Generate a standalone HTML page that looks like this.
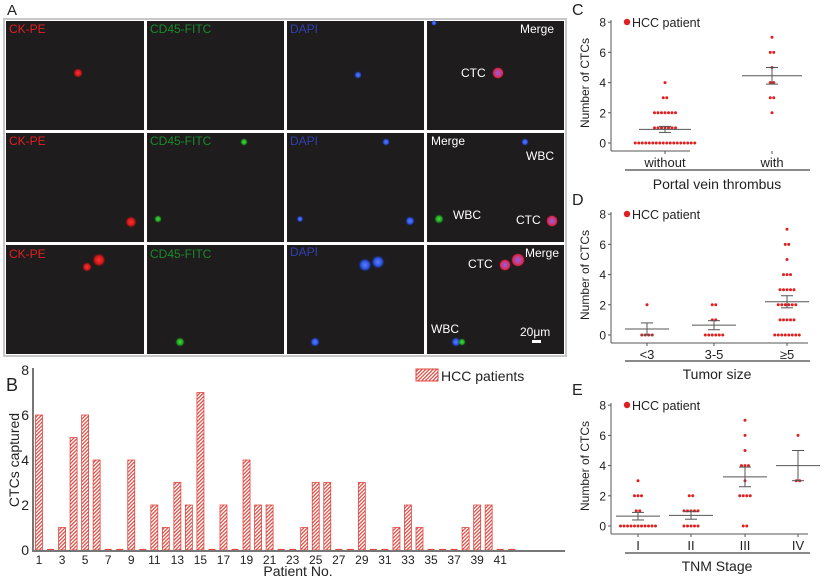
<!DOCTYPE html>
<html><head><meta charset="utf-8"><style>
html,body{margin:0;padding:0;background:#fff;}
svg{display:block;font-family:"Liberation Sans","DejaVu Sans",sans-serif;}
</style></head><body>
<svg id="s" width="825" height="577" viewBox="0 0 825 577" xmlns="http://www.w3.org/2000/svg">
<defs>
<pattern id="h" width="2.6" height="2.6" patternUnits="userSpaceOnUse" patternTransform="rotate(45)">
<rect width="2.6" height="2.6" fill="#fff"/><rect width="1.2" height="2.6" fill="#e0473f"/>
</pattern>
<radialGradient id="gr"><stop offset="0" stop-color="#ff3030"/><stop offset="0.6" stop-color="#d01818"/><stop offset="1" stop-color="#5a1010" stop-opacity="0"/></radialGradient>
<radialGradient id="gg"><stop offset="0" stop-color="#40e040"/><stop offset="0.6" stop-color="#20a020"/><stop offset="1" stop-color="#104010" stop-opacity="0"/></radialGradient>
<radialGradient id="gb"><stop offset="0" stop-color="#5a80ff"/><stop offset="0.6" stop-color="#2a50e0"/><stop offset="1" stop-color="#102060" stop-opacity="0"/></radialGradient>
<radialGradient id="gm"><stop offset="0" stop-color="#9060e0"/><stop offset="0.5" stop-color="#c04090"/><stop offset="0.8" stop-color="#e02040"/><stop offset="1" stop-color="#501010" stop-opacity="0"/></radialGradient>
</defs>
<text x="7" y="15" font-size="15" fill="#222">A</text>
<rect x="3" y="18" width="564" height="339" fill="#c8c8c8"/>
<rect x="5" y="20" width="560" height="335" fill="#fff"/>
<g fill="#1e1c1d">
<rect x="6" y="21" width="138" height="109"/><rect x="147" y="21" width="137" height="109"/><rect x="287" y="21" width="137" height="109"/><rect x="427" y="21" width="137" height="109"/>
<rect x="6" y="133" width="138" height="109"/><rect x="147" y="133" width="137" height="109"/><rect x="287" y="133" width="137" height="109"/><rect x="427" y="133" width="137" height="109"/>
<rect x="6" y="245" width="138" height="109"/><rect x="147" y="245" width="137" height="109"/><rect x="287" y="245" width="137" height="109"/><rect x="427" y="245" width="137" height="109"/>
</g>
<g font-size="12">
<text x="9" y="33" fill="#e02020">CK-PE</text><text x="150" y="33" fill="#1a8a2a">CD45-FITC</text><text x="290" y="33" fill="#3040b0">DAPI</text><text x="520" y="33" fill="#fff">Merge</text>
<text x="9" y="145" fill="#e02020">CK-PE</text><text x="150" y="145" fill="#1a8a2a">CD45-FITC</text><text x="290" y="145" fill="#3040b0">DAPI</text><text x="431" y="145" fill="#fff">Merge</text>
<text x="9" y="258" fill="#e02020">CK-PE</text><text x="150" y="258" fill="#1a8a2a">CD45-FITC</text><text x="290" y="256" fill="#3040b0">DAPI</text><text x="525" y="257" fill="#fff">Merge</text>
<text x="461" y="77" fill="#fff">CTC</text><text x="526" y="160" fill="#fff">WBC</text><text x="453" y="219" fill="#fff">WBC</text><text x="516" y="224" fill="#fff">CTC</text>
<text x="468" y="268" fill="#fff">CTC</text><text x="431" y="333" fill="#fff">WBC</text><text x="520" y="336" fill="#fff">20μm</text>
</g>
<rect x="532" y="340" width="9" height="3" fill="#fff"/>
<circle cx="78" cy="73" r="5" fill="url(#gr)"/>
<circle cx="358" cy="75" r="4" fill="url(#gb)"/><circle cx="434" cy="23" r="3" fill="url(#gb)"/>
<circle cx="498" cy="73" r="6" fill="url(#gm)"/>
<circle cx="244" cy="142" r="4" fill="url(#gg)"/><circle cx="158" cy="219" r="4" fill="url(#gg)"/>
<circle cx="131" cy="222" r="6" fill="url(#gr)"/>
<circle cx="386" cy="142" r="4" fill="url(#gb)"/><circle cx="300" cy="219" r="3.5" fill="url(#gb)"/><circle cx="410" cy="221" r="5" fill="url(#gb)"/>
<circle cx="525" cy="142" r="4" fill="url(#gb)"/><circle cx="439" cy="219" r="5" fill="url(#gg)"/>
<circle cx="552" cy="221" r="6" fill="url(#gm)"/>
<circle cx="87" cy="267" r="5" fill="url(#gr)"/><circle cx="99" cy="260" r="7" fill="url(#gr)"/>
<circle cx="180" cy="342" r="5" fill="url(#gg)"/>
<circle cx="365" cy="265" r="7" fill="url(#gb)"/><circle cx="378" cy="262" r="7" fill="url(#gb)"/><circle cx="315" cy="342" r="5" fill="url(#gb)"/>
<circle cx="505" cy="265" r="6" fill="url(#gm)"/><circle cx="518" cy="260" r="7" fill="url(#gm)"/>
<circle cx="456" cy="342" r="5" fill="url(#gb)"/><circle cx="462" cy="342" r="4" fill="url(#gg)"/>
<text x="6" y="391" font-size="18" fill="#222">B</text>
<g id="bars"></g>
<line x1="33" y1="368" x2="33" y2="552" stroke="#777" stroke-width="2"/>
<line x1="32" y1="551" x2="565" y2="551" stroke="#777" stroke-width="2"/>
<g font-size="14" fill="#222" text-anchor="end">
<text x="29" y="375">8</text><text x="29" y="420">6</text><text x="29" y="465">4</text><text x="29" y="510">2</text><text x="29" y="555">0</text>
</g>
<text transform="translate(19,460) rotate(-90)" font-size="14" fill="#222" text-anchor="middle">CTCs captured</text>
<text x="298" y="576" font-size="14" fill="#222" text-anchor="middle">Patient No.</text>
<rect x="416" y="369" width="22" height="12" fill="url(#h)" stroke="#e0473f"/>
<text x="441" y="381" font-size="14" fill="#222">HCC patients</text>
<g id="xt" font-size="12" fill="#222" text-anchor="middle"></g>
<g id="right"></g>
</svg>
<script>
var NS="http://www.w3.org/2000/svg";
function el(p,t,a,txt){var e=document.createElementNS(NS,t);for(var k in a)e.setAttribute(k,a[k]);if(txt!=null)e.textContent=txt;p.appendChild(e);return e;}
var v=[6,0,1,5,6,4,0,0,4,0,2,1,3,2,7,0,2,0,4,2,2,0,0,1,3,3,0,0,3,0,0,1,2,1,0,0,0,1,2,2,0,0];
var b=document.getElementById('bars'),xt=document.getElementById('xt');
for(var i=0;i<42;i++){var cx=39+i*11.53,h=v[i]*22.5;
 if(h>0)el(b,'rect',{x:cx-3.5,y:550-h,width:7,height:h,fill:'url(#h)',stroke:'#e0473f','stroke-width':0.8});
 else el(b,'line',{x1:cx-3.5,y1:549.5,x2:cx+3.5,y2:549.5,stroke:'#e0473f','stroke-width':1.2});
 if(i%2==0)el(xt,'text',{x:cx,y:564},String(i+1));}
var R=document.getElementById('right');
function panel(L,top,y0,axEnd,cats,title,ty,ul){
 var sc=15.1;
 el(R,'text',{x:572,y:top+15,'font-size':16,fill:'#222'},L);
 el(R,'line',{x1:611,y1:y0-123,x2:611,y2:y0+8,stroke:'#555','stroke-width':1});
 el(R,'line',{x1:611,y1:y0+8,x2:axEnd,y2:y0+8,stroke:'#555','stroke-width':1});
 for(var k=0;k<=8;k+=2){el(R,'text',{x:606,y:y0-k*sc+4.5,'font-size':12,fill:'#222','text-anchor':'end'},String(k));
  el(R,'line',{x1:608,y1:y0-k*sc,x2:611,y2:y0-k*sc,stroke:'#555'});}
 el(R,'text',{transform:'translate(589,'+(y0-60)+') rotate(-90)','font-size':12,fill:'#222','text-anchor':'middle'},'Number of CTCs');
 el(R,'circle',{cx:627,cy:y0-121,r:3.2,fill:'#e02020'});
 el(R,'text',{x:632,y:y0-116,'font-size':12.5,fill:'#222'},'HCC patient');
 cats.forEach(function(c){
  var counts={};c.d.forEach(function(d){counts[d[0]]=d[1];});
  for(var val in counts){var n=counts[val];for(var j=0;j<n;j++){
   el(R,'circle',{cx:c.x+(j-(n-1)/2)*3.5,cy:y0-val*sc,r:1.5,fill:'#e02020'});}}
  var m=y0-c.m*sc,w=c.w||22;
  el(R,'line',{x1:c.x-w,y1:m,x2:c.x+w,y2:m,stroke:'#555'});
  el(R,'line',{x1:c.x,y1:y0-(c.m+c.e)*sc,x2:c.x,y2:y0-(c.m-c.e)*sc,stroke:'#555'});
  el(R,'line',{x1:c.x-6,y1:y0-(c.m+c.e)*sc,x2:c.x+6,y2:y0-(c.m+c.e)*sc,stroke:'#555'});
  el(R,'line',{x1:c.x-6,y1:y0-(c.m-c.e)*sc,x2:c.x+6,y2:y0-(c.m-c.e)*sc,stroke:'#555'});
  el(R,'line',{x1:c.x,y1:y0+8,x2:c.x,y2:y0+11,stroke:'#555'});
  el(R,'text',{x:c.x,y:y0+24,'font-size':13,fill:'#222','text-anchor':'middle'},c.n);
 });
 el(R,'line',{x1:625,y1:ul,x2:810,y2:ul,stroke:'#444','stroke-width':1.2});
 el(R,'text',{x:717,y:ty,'font-size':14,fill:'#222','text-anchor':'middle'},title);
}
panel('C',0,143,690,[
 {x:665,n:'without',m:0.9,e:0.2,w:26,d:[[0,18],[1,7],[2,7],[3,2],[4,1]]},
 {x:772,n:'with',m:4.45,e:0.55,w:30,d:[[2,1],[3,2],[4,2],[5,1],[6,2],[7,1]]}],
 'Portal vein thrombus',189,170);
panel('D',190,335,808,[
 {x:647,n:'<3',m:0.4,e:0.4,d:[[0,4],[2,1]]},
 {x:714,n:'3-5',m:0.65,e:0.3,d:[[0,6],[1,2],[2,2]]},
 {x:787,n:'≥5',m:2.2,e:0.4,d:[[0,8],[1,5],[2,6],[3,5],[4,3],[5,1],[6,2],[7,1]]}],
 'Tumor size',379,361);
panel('E',380,526,808,[
 {x:638,n:'I',m:0.65,e:0.25,d:[[0,11],[1,2],[2,3],[3,1]]},
 {x:691,n:'II',m:0.7,e:0.25,d:[[0,5],[1,5],[2,2]]},
 {x:745,n:'III',m:3.25,e:0.65,d:[[0,2],[2,4],[3,1],[4,3],[5,1],[6,1],[7,1]]},
 {x:798,n:'IV',m:4,e:1,d:[[3,2],[6,1]]}],
 'TNM Stage',571,553);
</script>
</body></html>
